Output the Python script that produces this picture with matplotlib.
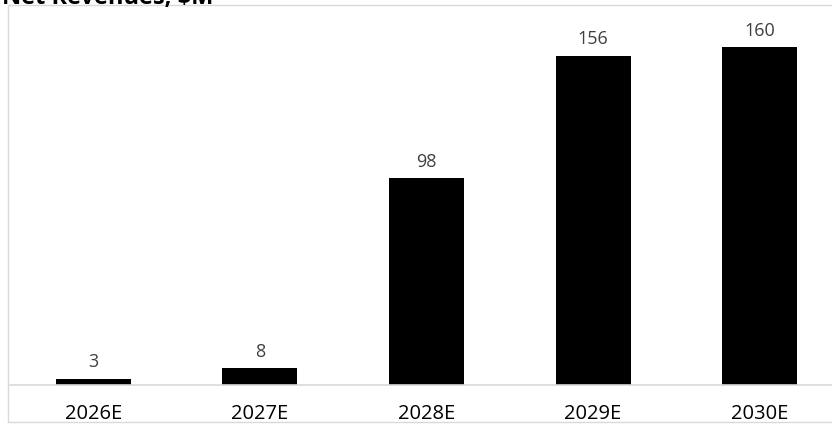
import matplotlib.pyplot as plt
from matplotlib.patches import Rectangle

years = ["2026E", "2027E", "2028E", "2029E", "2030E"]
revenues = [3, 8, 98, 156, 160]

W, H = 832, 424
fig = plt.figure(figsize=(W / 100, H / 100), dpi=100)

# chart border (light gray)
fig.patches.append(Rectangle((8 / W, 2 / H), 1.0, (H - 7) / H, transform=fig.transFigure,
                             fill=False, edgecolor="#d9d9d9", linewidth=1.0))

ax = fig.add_axes([10 / W, (H - 385) / H, 833 / W, 380 / H])
x = range(len(years))
bars = ax.bar(x, revenues, width=0.45, color="black")
ax.set_ylim(0, 180)
ax.set_xlim(-0.5, len(years) - 0.5)

for b, v in zip(bars, revenues):
    ax.text(b.get_x() + b.get_width() / 2, v + 3.5, str(v), ha="center", va="bottom",
            fontsize=13, color="#404040", family="Open Sans")

ax.set_xticks(list(x))
ax.set_xticklabels(years, fontsize=14.5, family="Open Sans", color="black")
ax.tick_params(axis="x", length=0, pad=14)
ax.set_yticks([])
for s in ["top", "left", "right"]:
    ax.spines[s].set_visible(False)
ax.spines["bottom"].set_color("#d9d9d9")
ax.spines["bottom"].set_linewidth(1.2)

fig.text(2 / W, 1 - 4 / H, "Net Revenues, $M", fontsize=17, fontweight="bold",
         family="Open Sans", ha="left", va="baseline")

fig.savefig("out.png", dpi=100)
